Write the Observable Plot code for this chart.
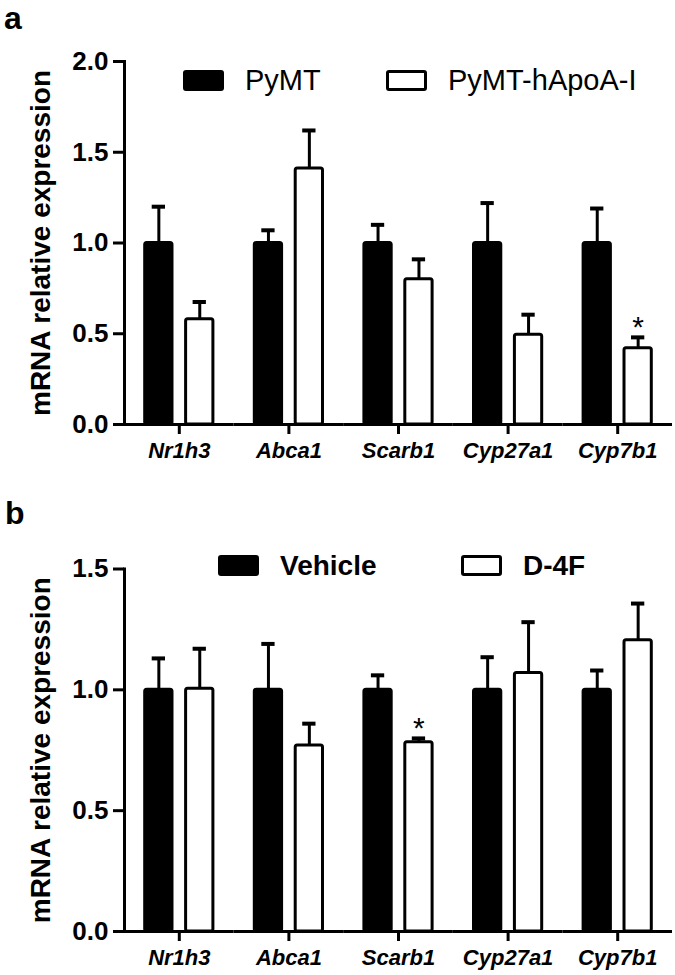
<!DOCTYPE html>
<html><head><meta charset="utf-8">
<script src="https://cdn.jsdelivr.net/npm/d3@7"></script>
<script src="https://cdn.jsdelivr.net/npm/@observablehq/plot@0.6"></script>
<style>
body{margin:0;background:#fff;font-family:"Liberation Sans",Arial,sans-serif;}
#root{position:relative;width:675px;height:975px;overflow:hidden;background:#fff}
.panel{position:absolute;left:0}
.letter{position:absolute;font-weight:bold;font-size:32px;line-height:normal;color:#000}
.leg{position:absolute;display:flex;align-items:center;height:21px;font-size:29px;line-height:1;color:#000;white-space:nowrap}
.leg.bold{font-weight:bold;font-size:28px}
.sw{width:35px;height:15px;border:3px solid #000;border-radius:3px;margin-right:21px;flex:none}
</style>
</head><body>
<div id="root"></div>
<script>
// ---- data ----
const genes = ["Nr1h3", "Abca1", "Scarb1", "Cyp27a1", "Cyp7b1"];
const tickLabelsA = [0, 0.5, 1.0, 1.5, 2.0];
const tickLabelsB = [0, 0.5, 1.0, 1.5];

// panel a
const groupsA = ["PyMT", "PyMT-hApoA-I"];
const pymtMean = [1.0, 1.0, 1.0, 1.0, 1.0];
const pymtSem  = [0.20, 0.07, 0.10, 0.22, 0.19];
const apoMean  = [0.58, 1.41, 0.80, 0.495, 0.42];
const apoSem   = [0.095, 0.21, 0.11, 0.11, 0.06];
const pymtSig  = [false, false, false, false, false];
const apoSig   = [false, false, false, false, true];

// panel b
const groupsB = ["Vehicle", "D-4F"];
const vehMean = [1.0, 1.0, 1.0, 1.0, 1.0];
const vehSem  = [0.13, 0.19, 0.06, 0.135, 0.08];
const d4fMean = [1.005, 0.77, 0.783, 1.07, 1.205];
const d4fSem  = [0.165, 0.09, 0.016, 0.21, 0.152];
const vehSig  = [false, false, false, false, false];
const d4fSig  = [false, false, true, false, false];

const fillColors = ["#000000", "#ffffff"];
const yLabel = "mRNA relative expression";

function buildRows(groups, means, sems, sigs) {
  const rows = [];
  genes.forEach((g, i) => {
    groups.forEach((grp, j) => {
      rows.push({gene: g, group: grp, value: means[j][i], upper: means[j][i] + sems[j][i], sig: sigs[j][i]});
    });
  });
  return rows;
}

const font = '"Liberation Sans", Arial, sans-serif';

function panel({groups, rows, yMax, ticks, height, marginTop, marginBottom}) {
  return Plot.plot({
    width: 675, height, marginTop, marginBottom, marginLeft: 124, marginRight: 3,
    style: {fontFamily: font, background: "transparent", color: "#000", overflow: "visible"},
    fx: {domain: genes, padding: 0, round: false, label: null},
    x: {domain: groups, paddingInner: 0.333, paddingOuter: 0.506, round: false, axis: null},
    y: {domain: [0, yMax], label: null},
    color: {domain: groups, range: fillColors},
    marks: [
      Plot.ruleX(rows, {fx: "gene", x: "group", y1: "value", y2: "upper", stroke: "#000", strokeWidth: 3}),
      Plot.tickY(rows, {fx: "gene", x: "group", y: "upper", insetLeft: 7, insetRight: 7, stroke: "#000", strokeWidth: 4}),
      Plot.barY(rows, {fx: "gene", x: "group", y: "value", fill: "group", stroke: "#000", strokeWidth: 3, rx: 2}),
      Plot.ruleY([0], {stroke: "#000", strokeWidth: 3}),
      Plot.frame({anchor: "left", facetAnchor: "left", stroke: "#000", strokeWidth: 3}),
      Plot.axisY({ticks, tickFormat: d3.format(".1f"), tickSize: 11, tickPadding: 5, strokeWidth: 3,
        fontSize: 26, fontWeight: "bold", label: null}),
      Plot.axisY({ticks: [], tickSize: 0, label: yLabel, labelAnchor: "center", labelArrow: "none",
        labelOffset: 94, fontSize: 28, fontWeight: "bold"}),
      Plot.axisFx({anchor: "bottom", tickSize: 10, tickPadding: 8, strokeWidth: 3,
        fontSize: 22, fontWeight: "bold", fontStyle: "italic", label: null}),
      Plot.text(rows.filter(d => d.sig), {fx: "gene", x: "group", y: "upper", text: () => "*", dy: -10, fontSize: 30, fill: "#000"})
    ]
  });
}

const root = document.getElementById("root");

const rowsA = buildRows(groupsA, [pymtMean, apoMean], [pymtSem, apoSem], [pymtSig, apoSig]);
const rowsB = buildRows(groupsB, [vehMean, d4fMean], [vehSem, d4fSem], [vehSig, d4fSig]);

const pa = panel({groups: groupsA, rows: rowsA, yMax: 2, ticks: tickLabelsA, height: 475, marginTop: 61, marginBottom: 51});
pa.classList.add("panel"); pa.style.top = "0px";
root.appendChild(pa);

const pb = panel({groups: groupsB, rows: rowsB, yMax: 1.5, ticks: tickLabelsB, height: 505, marginTop: 98.5, marginBottom: 44});
pb.classList.add("panel"); pb.style.top = "470px";
root.appendChild(pb);

function addLetter(t, left, top) {
  const d = document.createElement("div");
  d.className = "letter"; d.textContent = t;
  d.style.left = left + "px"; d.style.top = top + "px";
  root.appendChild(d);
}
addLetter("a", 4, 0);
addLetter("b", 5, 495);

function addLegend(groups, positions, top, bold) {
  groups.forEach((g, j) => {
    const d = document.createElement("div");
    d.className = "leg" + (bold ? " bold" : "");
    d.style.left = positions[j] + "px"; d.style.top = top + "px";
    const sw = document.createElement("span");
    sw.className = "sw"; sw.style.background = fillColors[j];
    const tx = document.createElement("span");
    tx.textContent = g;
    d.appendChild(sw); d.appendChild(tx);
    root.appendChild(d);
  });
}
addLegend(groupsA, [183, 386], 70, false);
addLegend(groupsB, [218, 461], 555, true);
</script>
</body></html>
